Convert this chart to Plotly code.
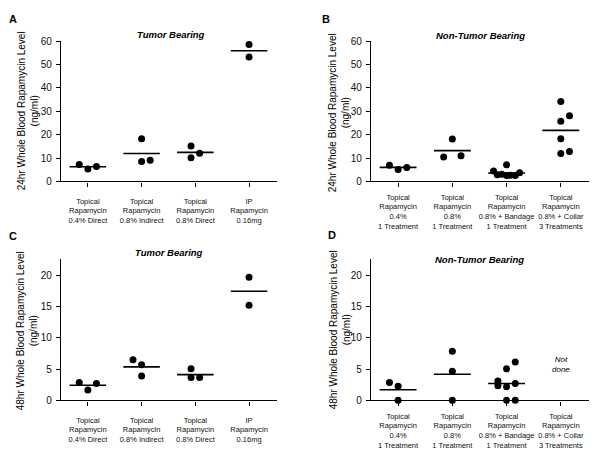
"""
Whole blood rapamycin levels 24hr / 48hr after dosing, tumor vs non-tumor bearing.
Four scatter panels (A-D) with a horizontal bar at each group mean.
"""
import numpy as np
import plotly.graph_objects as go
from plotly.subplots import make_subplots

# ---- data (ng/ml), one list per group ----
TUMOR_LABELS = [
    "Topical<br>Rapamycin<br>0.4% Direct",
    "Topical<br>Rapamycin<br>0.8% Indirect",
    "Topical<br>Rapamycin<br>0.8% Direct",
    "IP<br>Rapamycin<br>0.16mg",
]
NON_TUMOR_LABELS = [
    "Topical<br>Rapamycin<br>0.4%<br>1 Treatment",
    "Topical<br>Rapamycin<br>0.8%<br>1 Treatment",
    "Topical<br>Rapamycin<br>0.8% + Bandage<br>1 Treatment",
    "Topical<br>Rapamycin<br>0.8% + Collar<br>3 Treatments",
]

a_24hr_tumor = [
    [7.2, 5.3, 6.4],
    [18.3, 8.5, 9.0],
    [15.1, 10.1, 12.1],
    [58.6, 53.3],
]
b_24hr_non_tumor = [
    [6.9, 5.1, 6.0],
    [18.1, 10.4, 11.0],
    [4.4, 2.8, 3.1, 7.1, 2.5, 2.6, 2.5, 3.75],
    [34.2, 28.1, 25.8, 18.3, 11.9, 12.8],
]
c_48hr_tumor = [
    [2.87, 1.67, 2.72],
    [6.5, 5.7, 3.9],
    [5.07, 3.66, 3.66],
    [19.7, 15.25],
]
d_48hr_non_tumor = [
    [2.87, 2.25, 0.0],
    [7.88, 4.65, 0.0],
    [3.1, 2.34, 2.2, 5.05, 6.15, 2.7, 0.0, 0.0],
    [],  # not done
]

# horizontal spread of the dots inside each group (category units)
a_spread = [[-0.16, 0, 0.16], [0, 0, 0.16], [-0.08, -0.08, 0.08], [0, 0]]
b_spread = [[-0.16, 0, 0.16], [0, -0.16, 0.16],
            [-0.24, -0.17, -0.09, 0, 0, 0.07, 0.16, 0.24],
            [0, 0.16, 0, 0, 0, 0.16]]
c_spread = [[-0.16, 0, 0.16], [-0.16, 0, 0], [-0.08, -0.08, 0.08], [0, 0]]
d_spread = [[-0.16, 0, 0], [0, 0, 0], [-0.16, -0.16, 0, 0, 0.16, 0.16, 0, 0.16], []]

FONT = "Liberation Sans, Arial, sans-serif"
# the page body adds an 8px margin, so the figure is drawn 8px in from the window corner
OFFSET = 8
W, H = 600 - OFFSET, 456 - OFFSET
MEAN_HALF = 0.34


def px(x, y):
    """window pixel position -> paper coords (margins are zero)"""
    return (x - OFFSET) / W, 1 - (y - OFFSET) / H


fig = make_subplots(rows=2, cols=2)


def add_panel(row, col, groups, spread):
    xs, ys = [], []
    for i, (vals, offs) in enumerate(zip(groups, spread)):
        xs += [i + o for o in offs]
        ys += vals
    fig.add_trace(go.Scatter(x=xs, y=ys, mode="markers", cliponaxis=False,
                             marker=dict(size=7, color="black"), showlegend=False),
                  row=row, col=col)

    # mean bars
    mx, my = [], []
    for i, vals in enumerate(groups):
        if not vals:
            continue
        m = float(np.mean(vals))
        mx += [i - MEAN_HALF, i + MEAN_HALF, None]
        my += [m, m, None]
    fig.add_trace(go.Scatter(x=mx, y=my, mode="lines", cliponaxis=False,
                             line=dict(color="black", width=1.6), showlegend=False),
                  row=row, col=col)


add_panel(1, 1, a_24hr_tumor, a_spread)
add_panel(1, 2, b_24hr_non_tumor, b_spread)
add_panel(2, 1, c_48hr_tumor, c_spread)
add_panel(2, 2, d_48hr_non_tumor, d_spread)

# panel geometry (pixels)
x_left = [px(61, 0)[0], px(277, 0)[0]]
x_right = [px(371, 0)[0], px(589, 0)[0]]
y_top = [px(0, 180)[1], px(0, 36)[1]]
y_bottom = [px(0, 405)[1], px(0, 260)[1]]

common_x = dict(showline=True, linecolor="black", linewidth=1.4, ticks="outside",
                ticklen=4, tickwidth=1.2, tickcolor="black", showgrid=False,
                zeroline=False, tickvals=[0, 1, 2, 3], range=[-0.5, 3.52],
                tickfont=dict(family=FONT, size=7.5, color="#111"))
common_y = dict(showline=True, linecolor="black", linewidth=1.4, ticks="outside",
                ticklen=4, tickwidth=1.2, tickcolor="black", showgrid=False,
                zeroline=False, ticklabelstandoff=2,
                tickfont=dict(family=FONT, size=10, color="#111"))

fig.update_xaxes(common_x)
fig.update_yaxes(common_y)
fig.update_xaxes(domain=x_left, ticktext=TUMOR_LABELS, ticklabelstandoff=8, row=1, col=1)
fig.update_xaxes(domain=x_right, ticktext=NON_TUMOR_LABELS, ticklabelstandoff=4, row=1, col=2)
fig.update_xaxes(domain=x_left, ticktext=TUMOR_LABELS, ticklabelstandoff=8, row=2, col=1)
fig.update_xaxes(domain=x_right, ticktext=NON_TUMOR_LABELS, ticklabelstandoff=4, row=2, col=2)
fig.update_yaxes(domain=y_top, range=[0, 60], dtick=10, row=1)
fig.update_yaxes(domain=y_bottom, range=[0, 22.6], tickvals=[0, 5, 10, 15, 20], row=2)

annotations = []


def note(text, x, y, size, angle=0, **kw):
    ax, ay = px(x, y)
    annotations.append(dict(text=text, x=ax, y=ay, xref="paper", yref="paper",
                            showarrow=False, textangle=angle, xanchor="center",
                            yanchor="middle", font=dict(family=FONT, size=size, color="black"),
                            **kw))


# panel letters
note("<b>A</b>", 13, 13, 11)
note("<b>B</b>", 326, 13, 11)
note("<b>C</b>", 13, 236, 11)
note("<b>D</b>", 332, 235, 11)

# panel titles
note("<b><i>Tumor Bearing</i></b>", 171, 29, 9.5)
note("<b><i>Non-Tumor Bearing</i></b>", 480, 30, 9.5)
note("<b><i>Tumor Bearing</i></b>", 169, 253, 9.5)
note("<b><i>Non-Tumor Bearing</i></b>", 479, 260, 9.5)

# y titles
note("24hr Whole Blood Rapamycin Level<br>(ng/ml)", 28, 108, 10, angle=-90)
note("24hr Whole Blood Rapamycin Level<br>(ng/ml)", 339, 110, 10, angle=-90)
note("48hr Whole Blood Rapamycin Level<br>(ng/ml)", 27, 334, 10, angle=-90)
note("48hr Whole Blood Rapamycin Level<br>(ng/ml)", 340, 333, 10, angle=-90)

fig.update_layout(annotations=annotations)

# "Not done" sits in the empty collar group of panel D
fig.add_annotation(text="<i>Not<br>done</i>", x=3, y=5.8, xref="x4", yref="y4",
                   showarrow=False, font=dict(family=FONT, size=8, color="black"))

fig.update_layout(width=W, height=H, margin=dict(l=0, r=0, t=0, b=0),
                  paper_bgcolor="white", plot_bgcolor="white", showlegend=False)

fig.write_html("out.html")
